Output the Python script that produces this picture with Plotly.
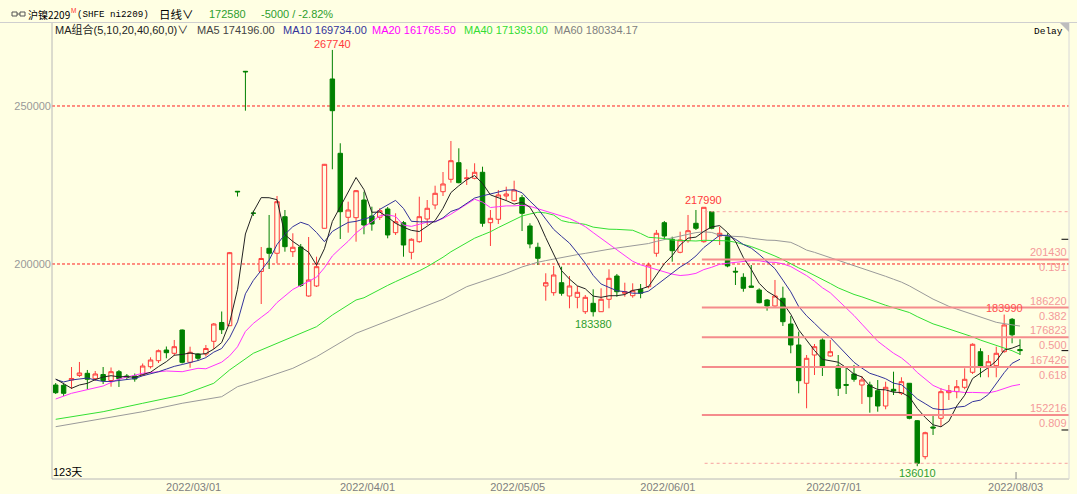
import numpy as np
import plotly.graph_objects as go

# ---------------- data ----------------
opens = [161710, 161610, 163290, 164720, 165410, 163700, 165030, 163130, 165920, 164560,
         164560, 164870, 167500, 169400, 172780, 171740, 179110, 168890, 171520, 171520,
         175540, 181490, 180470, 223010, 260980, 216140, 197630, 204970, 203390, 214970,
         203890, 205380, 189870, 193040, 211300, 258550, 235030, 214780, 214650, 220250,
         215190, 214780, 217410, 209910, 213070, 203700, 207060, 214240, 218670, 222880,
         226800, 232060, 226990, 227120, 229020, 213070, 214150, 221520, 220030, 220980,
         212030, 205290, 193040, 190920, 194080, 189870, 189460, 184900, 187560, 184900,
         188830, 196200, 190730, 189970, 191990, 192820, 203390, 213070, 207820, 203700,
         207370, 212880, 207060, 216550, 208860, 208640, 197690, 195790, 193040, 191770,
         188610, 186710, 189150, 181010, 174370, 162250, 171200, 175950, 170890, 167720,
         161870, 165190, 161710, 161710, 159900, 155060, 160350, 159080, 162250, 150410,
         139020, 148420, 151170, 159270, 159590, 160980, 165730, 172250, 167720, 167820,
         172250, 182500, 172940]
highs = [162340, 162020, 167400, 168990, 166460, 166140, 167400, 167250, 166460, 165190,
         165350, 168510, 170470, 172940, 173890, 175950, 179270, 173830, 171840, 174370,
         181330, 184970, 203800, 223100, 261080, 216870, 205380, 215510, 221520, 217090,
         209720, 206330, 208540, 202310, 231650, 267740, 238200, 219720, 223420, 222880,
         218130, 217630, 218040, 216040, 213610, 208130, 221300, 220250, 224780, 229110,
         238930, 236610, 229970, 231870, 230790, 217090, 223420, 224460, 226360, 221840,
         212880, 206740, 197060, 199370, 199150, 196200, 193040, 190190, 191990, 192310,
         198320, 196840, 194080, 193890, 193670, 200410, 210760, 213610, 208640, 210220,
         215510, 217090, 217990, 216770, 211800, 209720, 198960, 197060, 199680, 192310,
         188920, 194940, 192820, 183540, 178580, 171200, 174680, 176490, 175950, 171200,
         167720, 168040, 164560, 162750, 163290, 162750, 165920, 164150, 162340, 150630,
         146930, 152220, 160660, 161710, 163290, 166990, 174900, 173320, 171200, 173830,
         183990, 182910, 176170]
lows = [158860, 158230, 160440, 164240, 160350, 162970, 162020, 161170, 161080, 163290,
        162750, 164560, 166930, 168670, 170160, 170890, 168510, 167180, 169460, 170730,
        173100, 177850, 180380, 221360, 248510, 215190, 187340, 198420, 200220, 203890,
        202220, 192720, 189650, 192720, 211230, 229970, 207910, 209910, 207060, 209400,
        210540, 213920, 208130, 209180, 202310, 201490, 206740, 212340, 217310, 221520,
        225730, 225540, 225000, 226800, 211800, 205700, 212660, 220030, 219720, 210440,
        204970, 199680, 188390, 189970, 189970, 185980, 185980, 184180, 183380, 184810,
        185980, 189650, 189650, 189340, 189150, 192310, 202310, 207600, 200730, 203390,
        206740, 210760, 206740, 210980, 206010, 198960, 193350, 191230, 192560, 187560,
        185220, 186490, 180380, 171740, 159080, 154340, 164870, 164560, 170660, 158230,
        158860, 162750, 155700, 152940, 153260, 154020, 158540, 158540, 150850, 136010,
        138200, 145890, 148510, 156960, 157500, 160350, 165190, 164150, 164150, 164150,
        171930, 174900, 171200]
closes = [159270, 159080, 163770, 165510, 163510, 165190, 163130, 165920, 163700, 164080,
          163610, 167720, 169620, 172560, 171930, 173830, 168890, 172060, 170160, 173260,
          181010, 179210, 203580, 222850, 260820, 216040, 201740, 203390, 219720, 205480,
          205290, 193200, 194940, 199150, 231550, 248510, 216550, 217090, 223200, 212340,
          212660, 216870, 209180, 213390, 206010, 207820, 214970, 217630, 222370, 225320,
          232690, 225730, 227220, 229020, 212880, 214460, 221840, 222150, 223420, 216040,
          206330, 201800, 194080, 196520, 190730, 193040, 191040, 189460, 184900, 188830,
          195470, 191230, 191230, 191550, 190730, 199680, 209720, 208860, 204210, 207600,
          210540, 211300, 217940, 211300, 209720, 199370, 197470, 192310, 192630, 187750,
          186710, 189870, 181740, 174370, 163070, 170160, 173830, 167720, 172250, 160660,
          161610, 163510, 163290, 158010, 155060, 160980, 159810, 162750, 151170, 136930,
          146610, 148100, 159590, 159900, 161170, 163510, 174590, 167720, 169080, 171740,
          180700, 177580, 172580]

# x-axis date labels (index of the trading day)
date_idx = [17, 39, 58, 77, 98, 121]
date_text = ["2022/03/01", "2022/04/01", "2022/05/05", "2022/06/01", "2022/07/01", "2022/08/03"]

# y-axis labelled levels
y_ticks = [200000, 250000]

ma5_head_idx = [0, 1, 2, 3]
ma5_head_val = [163610, 162250, 160660, 161710]
ma10_head_idx = [0, 1, 2, 3, 4, 5, 6, 7, 8]
ma10_head_val = [163450, 162660, 163290, 163610, 163920, 163290, 162820, 162820, 163130]
ma20_head_idx = [0, 2, 6, 8, 11, 14, 16, 18]
ma20_head_val = [157280, 159080, 161390, 163610, 165410, 166140, 165920, 166990]
ma40_head_idx = [0, 6, 11, 16, 20, 22, 25, 28, 33, 35, 38]
ma40_head_val = [150850, 153260, 155920, 158540, 162250, 166460, 171740, 174900, 180160, 183860, 188610]
ma60_head_idx = [0, 6, 11, 16, 21, 23, 25, 30, 33, 38, 49, 52, 57]
ma60_head_val = [148510, 151170, 153260, 155920, 158010, 161170, 162750, 166990, 170660, 178070,
                 188830, 192820, 197060]
ma_last_text = ["MA5 174196.00", "MA10 169734.00", "MA20 161765.50", "MA40 171393.00", "MA60 180334.17"]

# golden-section levels
fib_levels = [201430, 186220, 176823, 167426, 152216]
fib_ratios = ["0.191", "0.382", "0.500", "0.618", "0.809"]
fib_start_idx = 82
fib_dash_levels = [216550, 136930]
right_marks = [207820, 172580, 147470]

# ---------------- layout constants ----------------
W, H = 1077, 494
L, R, T, B = 52, 8, 22, 15
PW, PH = W - L - R, H - T - B
XR = [-0.47, 128.2]
YR = [131960, 276580]
BG = "#FFFFE3"
RED = "#FF3B3B"
GREEN_FILL = "#008000"
GREEN_TXT = "#2E9E2E"
SANS = "Liberation Sans, Noto Sans CJK SC, sans-serif"
CJK = "Noto Sans CJK SC, Liberation Sans, sans-serif"
MONO = "Liberation Mono, monospace"


def px(x):
    return (x - L) / PW


def py(y):
    return (H - B - y) / PH


n = len(closes)
xi = list(range(n))
c_arr = np.array(closes, dtype=float)


def ma_series(period, head_idx, head_val):
    xs = list(head_idx)
    ys = list(head_val)
    for i in range(period - 1, n):
        xs.append(i)
        ys.append(float(c_arr[i - period + 1:i + 1].mean()))
    return xs, ys


fig = go.Figure()
fig.add_trace(go.Candlestick(
    x=xi, open=opens, high=highs, low=lows, close=closes,
    increasing=dict(line=dict(color=RED, width=1), fillcolor=BG),
    decreasing=dict(line=dict(color=GREEN_FILL, width=1), fillcolor=GREEN_FILL),
    whiskerwidth=0, showlegend=False, hoverinfo="skip"))

ma_defs = [
    (5, ma5_head_idx, ma5_head_val, "#222222"),
    (10, ma10_head_idx, ma10_head_val, "#33339A"),
    (20, ma20_head_idx, ma20_head_val, "#FF33FF"),
    (40, ma40_head_idx, ma40_head_val, "#33E033"),
    (60, ma60_head_idx, ma60_head_val, "#9A9A9A"),
]
for period, hi_, hv_, col in ma_defs[::-1]:
    xs, ys = ma_series(period, hi_, hv_)
    fig.add_trace(go.Scatter(x=xs, y=ys, mode="lines", line=dict(color=col, width=1),
                             showlegend=False, hoverinfo="skip"))

shapes = []
annotations = []

# red dashed level lines (grid)
for lv in y_ticks:
    shapes.append(dict(type="line", xref="paper", yref="y", x0=0, x1=1, y0=lv, y1=lv, layer="below",
                       line=dict(color="#FF1E1E", width=1, dash="3px,2px")))

# fib lines
for lv in fib_levels:
    shapes.append(dict(type="line", xref="x", yref="y", x0=fib_start_idx - 0.25, x1=XR[1],
                       y0=lv, y1=lv, line=dict(color="#F58C8C", width=2)))
for lv in fib_dash_levels:
    shapes.append(dict(type="line", xref="x", yref="y", x0=fib_start_idx + 0.1, x1=XR[1],
                       y0=lv, y1=lv, line=dict(color="#F7A0A0", width=1, dash="3px,3px")))
for lv, rt in zip(fib_levels, fib_ratios):
    annotations.append(dict(xref="paper", yref="y", x=1, y=lv, xanchor="right", yanchor="bottom",
                            text=str(lv), showarrow=False, yshift=-1,
                            font=dict(family=SANS, size=11, color="#F49A9A")))
    annotations.append(dict(xref="paper", yref="y", x=1, y=lv, xanchor="right", yanchor="top",
                            text=rt, showarrow=False, yshift=0,
                            font=dict(family=SANS, size=11, color="#F49A9A")))

# right-edge marks
for lv in right_marks:
    shapes.append(dict(type="line", xref="paper", yref="y", x0=px(1061.5), x1=px(1068.5),
                       y0=lv, y1=lv, line=dict(color="#000000", width=1)))

# extreme price labels
ext_labels = [(35, "h", RED, 6), (82, "h", RED, 7), (120, "h", "#FF5050", 7),
              (68, "l", GREEN_TXT, -7), (109, "l", GREEN_TXT, -7)]
for i, kind, col, shift in ext_labels:
    val = highs[i] if kind == "h" else lows[i]
    annotations.append(dict(x=i, y=val, xref="x", yref="y", text=str(val), showarrow=False,
                            yanchor="middle", yshift=shift,
                            font=dict(family=SANS, size=11, color=col)))

# frame lines
FR = "#B8B8B8"
shapes += [
    dict(type="line", xref="paper", yref="paper", x0=0, x1=0, y0=0, y1=1, line=dict(color=FR, width=1)),
    dict(type="line", xref="paper", yref="paper", x0=0, x1=1, y0=0, y1=0, line=dict(color=FR, width=1)),
    dict(type="line", xref="paper", yref="paper", x0=1, x1=1, y0=0, y1=1, line=dict(color="#D8D8D8", width=1)),
    dict(type="line", xref="paper", yref="paper", x0=px(0), x1=px(W), y0=py(22.5), y1=py(22.5),
         line=dict(color="#CFCFCF", width=1)),
    # current-day tick at the bottom
    dict(type="line", xref="x", yref="paper", x0=date_idx[-1] + 0.5, x1=date_idx[-1] + 0.5,
         y0=0, y1=py(472), line=dict(color="#888888", width=1)),
    # top-right corner triangle
    dict(type="path", xref="paper", yref="paper",
         path="M %f,%f L %f,%f L %f,%f Z" % (px(1060), py(23), px(1069), py(23), px(1069), py(32)),
         fillcolor="#BDBDBD", line=dict(width=0)),
    # header icon
    dict(type="rect", xref="paper", yref="paper", x0=px(12), x1=px(17), y0=py(16), y1=py(12),
         line=dict(color="#555555", width=1)),
    dict(type="rect", xref="paper", yref="paper", x0=px(20), x1=px(25), y0=py(16), y1=py(12),
         line=dict(color="#555555", width=1)),
    dict(type="line", xref="paper", yref="paper", x0=px(17), x1=px(20), y0=py(14), y1=py(14),
         line=dict(color="#555555", width=1)),
]


def txt(s, x, y, size, color, family=SANS, anchor="left"):
    annotations.append(dict(xref="paper", yref="paper", x=px(x), y=py(y), text=s, showarrow=False,
                            xanchor=anchor, yanchor="middle", borderpad=0,
                            font=dict(family=family, size=size, color=color)))


# header line 1
txt("沪镍2209", 27, 14, 10, "#000000", CJK)
txt("M", 70, 11, 6.5, "#FF3030")
txt("(SHFE ni2209)", 76, 14, 9.2, "#000000", MONO)
txt("日线∨", 158, 14, 11.5, "#000000", CJK)
txt("172580", 208, 14, 11, GREEN_TXT)
txt("-5000 / -2.82%", 260, 14, 11, GREEN_TXT)
# header line 2
txt("MA组合(5,10,20,40,60,0)∨", 54, 30, 11, "#222222")
ma_txt_x = [196, 282, 371, 463, 553]
ma_txt_col = ["#444444", "#33339A", "#FF00FF", "#33DD33", "#808080"]
for s, xx, cc in zip(ma_last_text, ma_txt_x, ma_txt_col):
    txt(s, xx, 30, 11, cc)
txt("Delay", 1033, 31, 9.5, "#000000", MONO)
txt("123天", 52, 472, 11, "#000000", SANS)

fig.update_layout(
    width=W, height=H, autosize=False,
    margin=dict(l=L, r=R, t=T, b=B, pad=0, autoexpand=False),
    paper_bgcolor=BG, plot_bgcolor=BG,
    boxgap=0.2,
    shapes=shapes, annotations=annotations,
    font=dict(family=SANS, size=11, color="#808080"),
    xaxis=dict(range=XR, rangeslider=dict(visible=False), showgrid=False, zeroline=False,
               showline=False, ticks="", tickmode="array", automargin=False,
               tickvals=[d + 0.45 for d in date_idx], ticktext=date_text,
               tickfont=dict(family=SANS, size=11, color="#808080")),
    yaxis=dict(range=YR, showgrid=False,
               zeroline=False, showline=False, ticks="", tickmode="array", automargin=False,
               tickvals=y_ticks, ticktext=[str(v) for v in y_ticks],
               tickfont=dict(family=SANS, size=11, color="#999999")),
)

fig.write_html("out.html", config={"displayModeBar": False},
               post_script="document.body.style.margin='0px';")
